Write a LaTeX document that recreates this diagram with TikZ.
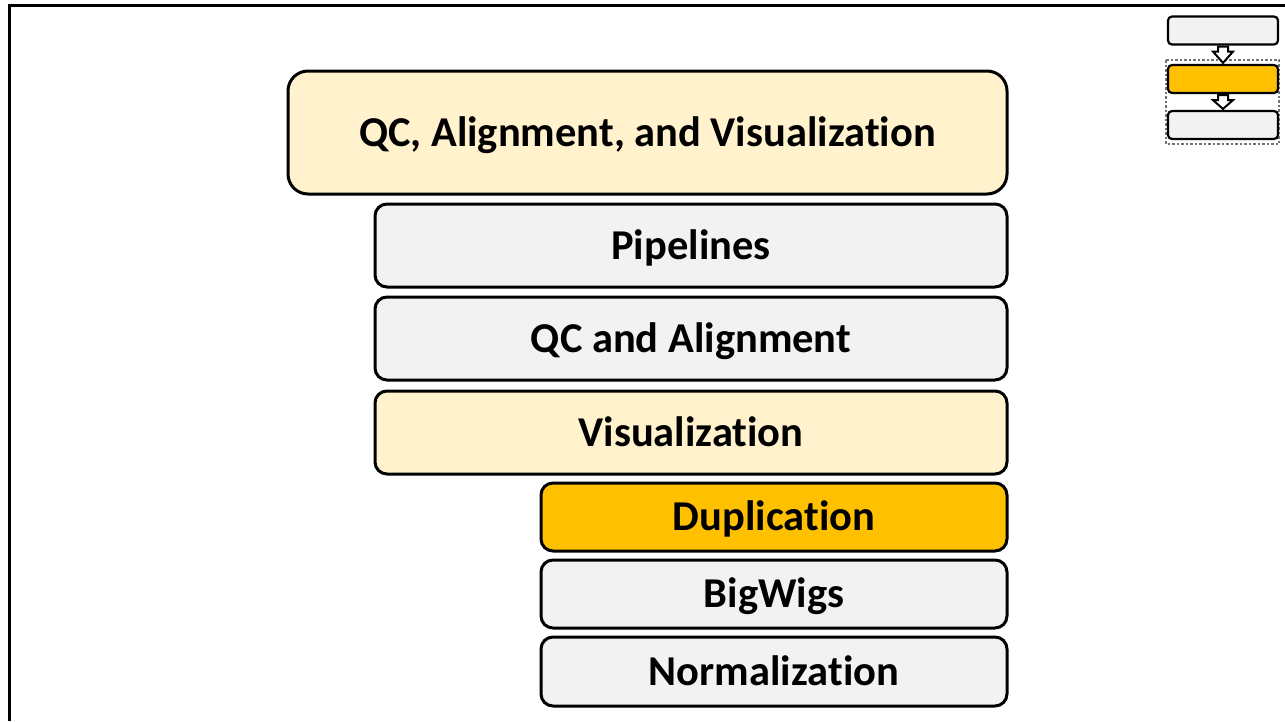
\documentclass[tikz,border=0pt]{standalone}
\usepackage{fontspec}
\setmainfont[Ligatures=NoCommon]{Carlito}
\usetikzlibrary{calc}
\definecolor{cream}{HTML}{FFF2CC}
\definecolor{lgray}{HTML}{F2F2F2}
\definecolor{amber}{HTML}{FFC000}
\tikzset{
  box/.style={draw=black, line width=3pt, rounded corners=12pt, inner sep=0pt, text height=32pt, text depth=4.6pt, font=\bfseries\fontsize{42.5}{48}\selectfont},
  bigbox/.style={box, rounded corners=20pt},
  ibox/.style={draw=black, line width=2.2pt, rounded corners=4pt, inner sep=0pt, minimum width=110pt, minimum height=28pt, fill=lgray},
  blockarrow/.style={draw=black, line width=2pt, fill=white, line join=miter},
  frameline/.style={line width=3pt, black},
}
\begin{document}
\begin{tikzpicture}[x=1pt,y=-1pt]
\useasboundingbox (0,0) rectangle (1285,721);
\draw[frameline] (9,721) -- (9,5) -- (1285,5);
% main stack
\node[bigbox, fill=cream, minimum width=719pt, minimum height=123pt] (qcav) at (647.5,132.5) {QC, Alignment, and Visualization};
\node[box, fill=lgray, minimum width=632pt, minimum height=83pt] (pipe) at (691,245.5) {Pipelines};
\node[box, fill=lgray, minimum width=632pt, minimum height=83pt] (qca) at (691,338.5) {QC and Alignment};
\node[box, fill=cream, minimum width=632pt, minimum height=83pt] (vis) at (691,432.5) {Visualization};
\node[box, fill=amber, minimum width=466pt, minimum height=68pt] (dup) at (774,517) {Duplication};
\node[box, fill=lgray, minimum width=466pt, minimum height=68pt] (bw) at (774,594) {BigWigs};
\node[box, fill=lgray, minimum width=466pt, minimum height=69pt] (norm) at (774,671.5) {Normalization};
% icon
\draw[black!55, line width=2.5pt, dash pattern=on 2.5pt off 2pt] (1166,60) rectangle (1279,144);
\node[ibox] (i1) at (1223,30.5) {};
\node[ibox, fill=amber] (i2) at (1223,79) {};
\node[ibox] (i3) at (1223,125) {};
\foreach \a/\b in {i1/i2, i2/i3}{
  \draw[blockarrow] ($(\a.south)+(-5,1)$) -- ($(\a.south)+(5,1)$) -- ($(\a.south)+(5,6)$) -- ($(\a.south)+(10,6)$)
    -- ($(\b.north)+(0,-1)$) -- ($(\a.south)+(-10,6)$) -- ($(\a.south)+(-5,6)$) -- cycle;
}
\end{tikzpicture}
\end{document}
